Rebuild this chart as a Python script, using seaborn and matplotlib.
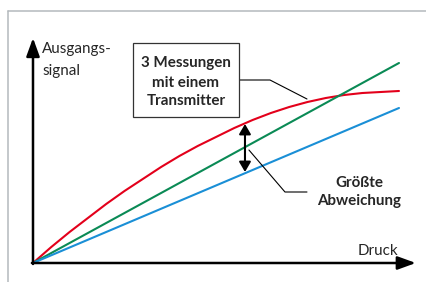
import numpy as np
import pandas as pd
import seaborn as sns
import matplotlib.pyplot as plt
from matplotlib.patches import Rectangle
from matplotlib.lines import Line2D

# Druck in 0..10, Ausgangssignal in relativen Einheiten
druck_rot = [0, 0.5, 1, 1.5, 2, 2.5, 3, 3.5, 4, 4.5, 5, 5.5, 6, 6.5, 7, 7.5, 8, 8.5, 9, 9.5, 10]
signal_rot = [0, 16, 31, 45, 59, 72, 84, 96, 107, 117, 126, 135, 143, 150, 156, 161, 165, 168, 170, 171, 172]
druck_gruen = [0, 10]
signal_gruen = [0, 200]
druck_blau = [0, 10]
signal_blau = [0, 155]

farben = {"rot": "#e3001b", "gruen": "#0a8a55", "blau": "#1a8fd6"}

sns.set_theme(style="white")
plt.rcParams['font.family'] = ['Lato', 'DejaVu Sans']

df = pd.concat([
    pd.DataFrame({"Druck": druck_rot, "Signal": signal_rot, "kurve": "rot"}),
    pd.DataFrame({"Druck": druck_gruen, "Signal": signal_gruen, "kurve": "gruen"}),
    pd.DataFrame({"Druck": druck_blau, "Signal": signal_blau, "kurve": "blau"}),
])

fig = plt.figure(figsize=(4.26, 2.82), dpi=100)
ax = fig.add_axes([0, 0, 1, 1])
sns.lineplot(data=df, x="Druck", y="Signal", hue="kurve", palette=farben,
             sort=False, estimator=None, linewidth=1.5, legend=False, ax=ax)
ax.set_xlim(-0.9016, 10.738)
ax.set_ylim(-19, 263)
ax.axis("off")

# Achsen mit Pfeilen
pfeil = dict(arrowstyle="-|>,head_length=1.1,head_width=0.4", mutation_scale=10,
             color="black", lw=1.8, shrinkA=0, shrinkB=0)
ax.annotate("", xy=(0, 225), xytext=(0, -1), arrowprops=pfeil)
ax.annotate("", xy=(10.46, 0), xytext=(-0.03, 0), arrowprops=pfeil)

ax.text(0.246, 210, "Ausgangs-", fontsize=10.9, va="baseline", ha="left")
ax.text(0.246, 188, "signal", fontsize=10.9, va="baseline", ha="left")
ax.text(9.43, 8, "Druck", fontsize=10.9, va="baseline", ha="center")

# Kasten
ax.add_patch(Rectangle((2.732, 146), 2.896, 74, fill=True, facecolor="white",
                       edgecolor="#333333", lw=0.9, zorder=5))
for y, s in [(196, "3 Messungen"), (176, "mit einem"), (158, "Transmitter")]:
    ax.text(4.18, y, s, fontsize=10.9, fontweight="bold", ha="center", va="baseline", zorder=6)
ax.plot([5.628, 6.475, 7.486], [183, 183, 164], color="black", lw=0.8)

# Größte Abweichung
ax.annotate("", xy=(5.792, 139), xytext=(5.792, 91),
            arrowprops=dict(arrowstyle="<|-|>,head_length=0.6,head_width=0.35",
                            mutation_scale=10, color="black", lw=1.5,
                            shrinkA=0, shrinkB=0))
ax.plot([5.90, 6.885, 7.486], [113, 71, 71], color="black", lw=0.8)
ax.text(8.907, 76, "Größte", fontsize=10.9, fontweight="bold", ha="center", va="baseline")
ax.text(8.907, 58, "Abweichung", fontsize=10.9, fontweight="bold", ha="center", va="baseline")

# Rahmen
fig.add_artist(Line2D([8 / 426, 1], [1 - 11 / 282, 1 - 11 / 282], color="#b4b9bd", lw=1.1))
fig.add_artist(Line2D([8 / 426, 8 / 426], [0, 1 - 11 / 282], color="#b4b9bd", lw=1.1))

fig.savefig("out.png", dpi=100)
